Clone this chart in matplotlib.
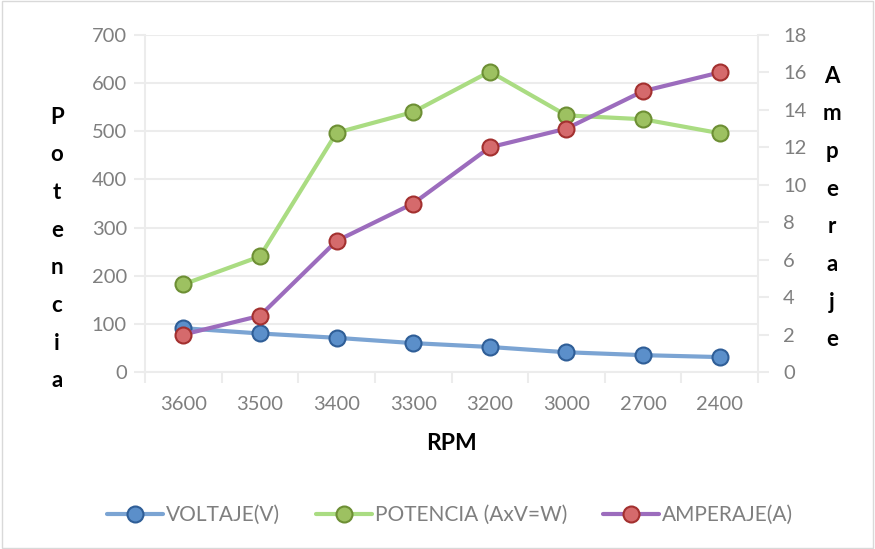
import matplotlib
matplotlib.use("Agg")
import matplotlib.pyplot as plt
from matplotlib.patches import Rectangle

rpm = ["3600", "3500", "3400", "3300", "3200", "3000", "2700", "2400"]
voltaje = [91, 80, 71, 60, 52, 41, 35, 31]
potencia = [182, 240, 497, 540, 624, 533, 525, 496]
amperaje = [2, 3, 7, 9, 12, 13, 15, 16]

plt.rcParams['font.family'] = ['Lato', 'DejaVu Sans']
W, H = 875, 549
fig = plt.figure(figsize=(W/100, H/100), dpi=100)
fig.patches.append(Rectangle((0.002, 0.002), 0.996, 0.996, transform=fig.transFigure,
                             fill=False, edgecolor='#d9d9d9', linewidth=1))

left, right, top, bottom = 145, 758, 35, 372
ax = fig.add_axes([left/W, 1-bottom/H, (right-left)/W, (bottom-top)/H])
ax2 = ax.twinx()

x = list(range(len(rpm)))
tick_col = '#7f7f7f'
grid_col = '#ececec'
fs_tick = 14.5

ax.set_ylim(0, 700)
ax.set_yticks(range(0, 701, 100))
ax2.set_ylim(0, 18)
ax2.set_yticks(range(0, 19, 2))
ax.set_xlim(-0.5, len(rpm)-0.5)
ax.set_xticks(x)
ax.set_xticklabels(rpm)
ax.set_xticks([i+0.5 for i in range(-1, len(rpm))], minor=True)
ax.tick_params(axis='x', which='major', length=0, pad=17, labelsize=fs_tick, labelcolor=tick_col)
ax.tick_params(axis='x', which='minor', length=8, color=grid_col, width=1.5)
ax.tick_params(axis='y', length=8, color=grid_col, width=1.5, labelsize=fs_tick, labelcolor=tick_col, pad=5)
ax2.tick_params(axis='y', length=8, color=grid_col, width=1.5, labelsize=fs_tick, labelcolor=tick_col, pad=10)
ax.yaxis.grid(True, color=grid_col, linewidth=1.5)
ax.set_axisbelow(True)
for a in (ax, ax2):
    for s in a.spines.values():
        s.set_visible(False)
ax.spines['left'].set_visible(True)
ax.spines['left'].set_color(grid_col)
ax.spines['left'].set_linewidth(1.5)
ax.spines['bottom'].set_visible(True)
ax.spines['bottom'].set_color(grid_col)
ax.spines['bottom'].set_linewidth(1.5)
ax2.spines['right'].set_visible(True)
ax2.spines['right'].set_color(grid_col)
ax2.spines['right'].set_linewidth(1.5)

ms = 11.5
lw = 3.0
l1, = ax.plot(x, voltaje, color='#7ba4d3', lw=lw, marker='o', ms=ms,
              mfc='#5b8fca', mec='#2f5e97', mew=1.5, label='VOLTAJE(V)', solid_capstyle='round')
l2, = ax.plot(x, potencia, color='#aadc82', lw=lw, marker='o', ms=ms,
              mfc='#9dc161', mec='#6d8f34', mew=1.5, label='POTENCIA (AxV=W)', solid_capstyle='round')
l3, = ax2.plot(x, amperaje, color='#9c6cbd', lw=lw, marker='o', ms=ms,
               mfc='#d56a6c', mec='#a3302f', mew=1.5, label='AMPERAJE(A)', solid_capstyle='round')

fig.text(452/W, 1-443/H, 'RPM', ha='center', va='center', fontsize=16.5, fontweight='bold', color='black')
fig.text(57/W, 1-249/H, '\n'.join('Potencia'), ha='center', va='center', fontsize=16,
         fontweight='bold', color='black', linespacing=1.98)
fig.text(832/W, 1-208/H, '\n'.join('Amperaje'), ha='center', va='center', fontsize=16,
         fontweight='bold', color='black', linespacing=1.98)

leg = fig.legend(handles=[l1, l2, l3], loc='center', bbox_to_anchor=(450/W, 1-515/H), ncol=3,
                 frameon=False, fontsize=15, handlelength=2.7, columnspacing=1.7, handletextpad=0.15,
                 labelcolor=tick_col)

fig.savefig('out.png', dpi=100)
